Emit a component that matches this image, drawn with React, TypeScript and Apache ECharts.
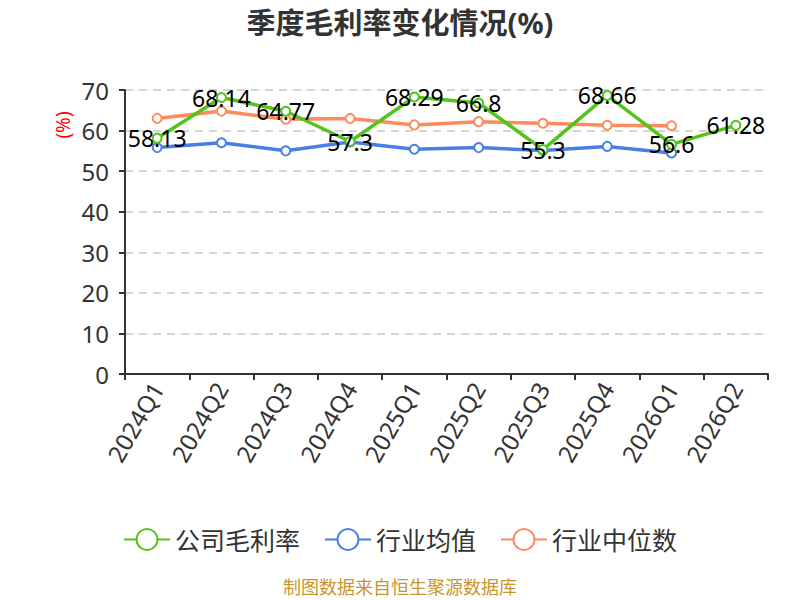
import React, { useEffect, useRef } from "react";
import * as echarts from "echarts";

const categories = ["2024Q1", "2024Q2", "2024Q3", "2024Q4", "2025Q1", "2025Q2", "2025Q3", "2025Q4", "2026Q1", "2026Q2"];
const companyMargin = [58.13, 68.14, 64.77, 57.3, 68.29, 66.8, 55.3, 68.66, 56.6, 61.28];
const industryAvg = [55.8, 57.0, 55.0, 57.2, 55.4, 55.8, 55.1, 56.1, 54.5, null];
const industryMedian = [63.0, 64.8, 62.8, 63.0, 61.4, 62.2, 61.8, 61.3, 61.2, null];
const seriesNames = ["公司毛利率", "行业均值", "行业中位数"];
const yTicks = { min: 0, max: 70, interval: 10 };

const FONT = "'Noto Sans', 'Noto Sans CJK SC', sans-serif";

export default function App() {
  const ref = useRef<HTMLDivElement>(null);
  useEffect(() => {
    document.body.style.margin = "0";
    if (!ref.current) return;
    const chart = echarts.init(ref.current, undefined, { renderer: "svg" });
    chart.setOption({
      animation: false,
      textStyle: { fontFamily: FONT },
      title: {
        text: "季度毛利率变化情况(%)",
        left: "center",
        top: 3,
        textStyle: { fontSize: 29, fontWeight: "bold", color: "#333", fontFamily: FONT },
      },
      legend: {
        data: seriesNames,
        top: 522,
        left: "center",
        itemWidth: 46,
        itemHeight: 26,
        itemGap: 24,
        textStyle: { fontSize: 25, color: "#333", fontFamily: FONT },
      },
      grid: { left: 125, right: 32, top: 90, bottom: 226, containLabel: false },
      xAxis: {
        type: "category",
        data: categories,
        boundaryGap: true,
        axisLine: { lineStyle: { color: "#333", width: 2 } },
        axisTick: { show: true, length: 6, lineStyle: { color: "#333", width: 2 } },
        axisLabel: { rotate: 60, fontSize: 24, color: "#333", margin: 10, interval: 0, fontFamily: FONT },
      },
      yAxis: {
        type: "value",
        min: yTicks.min,
        max: yTicks.max,
        interval: yTicks.interval,
        axisLine: { show: true, lineStyle: { color: "#333", width: 2 } },
        axisTick: { show: true, length: 6, lineStyle: { color: "#333", width: 2 } },
        axisLabel: { fontSize: 24, color: "#333", margin: 16, fontFamily: FONT },
        splitLine: { lineStyle: { type: [8, 6], color: "#c8c8c8", width: 1.5 } },
      },
      series: [
        {
          name: seriesNames[0],
          type: "line",
          data: companyMargin,
          symbol: "emptyCircle",
          symbolSize: 9,
          itemStyle: { color: "#52c41a" },
          lineStyle: { width: 3.5, color: "#52c41a" },
          z: 3,
          label: {
            show: true,
            position: "inside",
            fontSize: 23,
            color: "#000",
            fontFamily: FONT,
          },
        },
        {
          name: seriesNames[1],
          type: "line",
          data: industryAvg,
          symbol: "emptyCircle",
          symbolSize: 9,
          itemStyle: { color: "#4a7ee6" },
          lineStyle: { width: 3.5, color: "#4a7ee6" },
          z: 2,
        },
        {
          name: seriesNames[2],
          type: "line",
          data: industryMedian,
          symbol: "emptyCircle",
          symbolSize: 9,
          itemStyle: { color: "#ff8a5c" },
          lineStyle: { width: 3.5, color: "#ff8a5c" },
          z: 2,
        },
      ],
      graphic: [
        {
          type: "text",
          x: 63,
          y: 125,
          rotation: Math.PI / 2,
          style: {
            text: "(%)",
            fill: "#ff0000",
            fontSize: 19,
            fontFamily: FONT,
            align: "center",
            verticalAlign: "middle",
          },
        },
        {
          type: "text",
          left: "center",
          top: 578,
          style: { text: "制图数据来自恒生聚源数据库", fill: "#c8962e", fontSize: 18, fontFamily: FONT },
        },
      ],
    });
    return () => chart.dispose();
  }, []);
  return <div ref={ref} style={{ width: 800, height: 600 }} />;
}
